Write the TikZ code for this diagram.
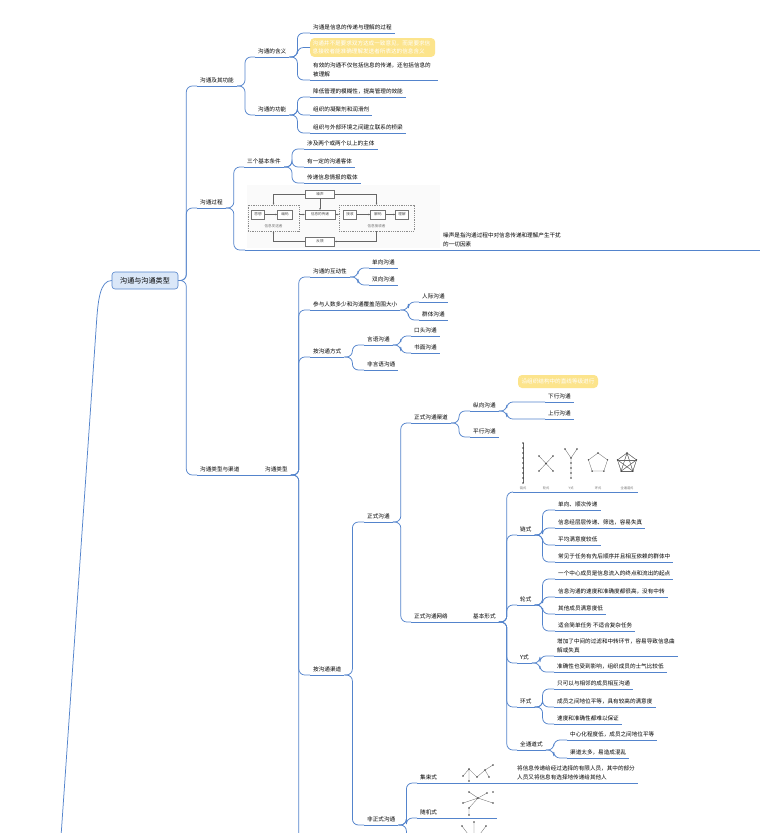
\documentclass[tikz,border=0pt]{standalone}
\usepackage{fontspec}
\setmainfont{Noto Sans CJK SC}
\usepackage{xcolor}
\usetikzlibrary{arrows.meta}

\definecolor{linkblue}{RGB}{84,132,204}
\definecolor{rootfill}{RGB}{218,231,248}
\definecolor{noteyellow}{RGB}{252,228,140}
\newcommand\mmfont{\fontsize{5.6}{8.6}\selectfont}
\newcommand\mmrootfont{\fontsize{7.1}{8}\selectfont}
\newcommand\mmimgfont{\fontsize{3.6}{4}\selectfont}
\newcommand\mmnetfont{\fontsize{3.2}{4}\selectfont}

\begin{document}
\begin{tikzpicture}[x=1pt, y=-1pt, >=Stealth,
  link/.style={draw=linkblue, line width=0.75pt, rounded corners=6pt},
  elbow/.style={to path={-- ++(#1,0) |- (\tikztotarget)}},
  elbow/.default=8,
  topic/.style={anchor=south west, inner xsep=3pt, inner ysep=3.2pt, font=\mmfont, text=black, align=left},
  notebox/.style={fill=noteyellow, rounded corners=4pt, text=white, font=\mmfont, align=left, inner sep=2.5pt},
  rootbox/.style={draw=linkblue, fill=rootfill, rounded corners=3pt, line width=0.6pt, font=\mmrootfont, minimum width=66pt, minimum height=17pt},
  pbox/.style={draw=black!55, fill=white, font=\mmimgfont, text=black!70, inner sep=0.5pt, minimum height=8.5pt},
  pgroup/.style={draw=black!45, dash pattern=on 1pt off 0.8pt, line width=0.3pt, inner sep=0pt},
  parr/.style={draw=black!60, line width=0.3pt, -{Stealth[length=2pt,width=1.6pt]}},
  netline/.style={draw=black!60, line width=0.3pt},
  netdot/.style={fill=black!75},
  netlbl/.style={font=\mmnetfont, text=black!55, inner sep=0pt}]

\useasboundingbox (0,0) rectangle (768,833);
\clip (0,0) rectangle (768,833);
\fill[white] (0,0) rectangle (768,833);

% root and first level
\node[rootbox] (root) at (145,280.5) {沟通与沟通类型};
\node[topic] (jiqi) at (197,86) {沟通及其功能};
\node[topic] (guocheng) at (197,208) {沟通过程};
\node[topic] (leiqu) at (197,475) {沟通类型与渠道};
\coordinate (rootdown) at (58,880);

% 沟通及其功能
\node[topic] (hanyi) at (255,57) {沟通的含义};
\node[topic] (gongneng) at (255,115) {沟通的功能};
\node[topic] (h1) at (310,33) {沟通是信息的传递与理解的过程};
\node[notebox, anchor=west, text width=120pt] (note1) at (310,47.5) {沟通并不是要求双方达成一致意见，而是要求信\\息接收者能准确理解发送者所表达的信息含义};
\node[topic, text width=122pt] (h3) at (310,80) {有效的沟通不仅包括信息的传递，还包括信息的\\被理解};
\node[topic] (g1) at (310,97) {降低管理的模糊性，提高管理的效能};
\node[topic] (g2) at (310,115) {组织的凝聚剂和润滑剂};
\node[topic] (g3) at (310,133) {组织与外部环境之间建立联系的桥梁};

% 沟通过程
\node[topic] (tiaojian) at (244,167) {三个基本条件};
\node[topic] (t1) at (304,149) {涉及两个或两个以上的主体};
\node[topic] (t2) at (304,167) {有一定的沟通客体};
\node[topic] (t3) at (304,183) {传递信息情报的载体};
\coordinate (liucheng) at (245,250);
\coordinate (liuchengend) at (760,250);
\node[topic] (zaosheng) at (440,250) {噪声是指沟通过程中对信息传递和理解产生干扰\\的一切因素};

% process figure
\fill[black!2] (247,185) rectangle (440,248);
\node[pbox, minimum width=29pt] (noise) at (320,194) {噪声};
\node[pgroup, minimum width=51pt, minimum height=26pt] (sender) at (273.5,218) {};
\node[pgroup, minimum width=75pt, minimum height=26pt] (receiver) at (376.5,218) {};
\node[pbox, minimum width=13pt] (sixiang) at (258,214.5) {思想};
\node[pbox, minimum width=15pt] (bianma) at (285,214.5) {编码};
\node[pbox, minimum width=30pt] (chuandi) at (320,214.5) {信息的传递};
\node[pbox, minimum width=13pt] (jieshou) at (350,214.5) {接收};
\node[pbox, minimum width=15pt] (jiema) at (378,214.5) {解码};
\node[pbox, minimum width=13pt] (lijie) at (402,214.5) {理解};
\node[netlbl, font=\mmimgfont] (faxing) at (273.5,226) {信息发送者};
\node[netlbl, font=\mmimgfont] (jieshouzhe) at (376.5,226) {信息接收者};
\node[pbox, minimum width=29pt] (fankui) at (320,241.5) {反馈};
\draw[parr] (noise.west) -| (sender.north);
\draw[parr] (noise.east) -| (receiver.north);
\draw[parr] (noise.south) -- (chuandi.north);
\draw[parr] (sixiang) -- (bianma);
\draw[parr] (sender.east |- chuandi.west) -- (chuandi.west);
\draw[parr] (chuandi.east) -- (receiver.west |- chuandi.east);
\draw[parr] (jieshou) -- (jiema);
\draw[parr] (jiema) -- (lijie);
\draw[parr] (receiver.south) |- (fankui.east);
\draw[parr] (fankui.west) -| (sender.south);

% 沟通类型
\node[topic] (leixing) at (262,475) {沟通类型};
\coordinate (leixingmore) at (313,900);
\node[topic] (hudong) at (310,277) {沟通的互动性};
\node[topic] (renshu) at (310,310) {参与人数多少和沟通覆盖范围大小};
\node[topic] (fangshi) at (310,357) {按沟通方式};
\node[topic] (qudao) at (310,675) {按沟通渠道};
\node[topic] (danxiang) at (369,268) {单向沟通};
\node[topic] (shuangxiang) at (369,285) {双向沟通};
\node[topic] (renji) at (419,302) {人际沟通};
\node[topic] (qunti) at (419,320) {群体沟通};
\node[topic] (yanyu) at (364,345) {言语沟通};
\node[topic] (feiyanyu) at (364,370) {非言语沟通};
\node[topic] (koutou) at (411,336) {口头沟通};
\node[topic] (shumian) at (411,353) {书面沟通};

% 按沟通渠道
\node[topic] (zhengshi) at (364,522) {正式沟通};
\node[topic] (feizhengshi) at (364,825) {非正式沟通};
\node[topic] (zsqudao) at (411,423) {正式沟通渠道};
\node[topic] (zswangluo) at (411,622) {正式沟通网络};
\node[notebox, inner sep=2pt, minimum width=80pt, minimum height=13pt] (note2) at (558,381.5) {沿组织结构中的直线等级进行};
\node[topic] (zongxiang) at (470,411) {纵向沟通};
\node[topic] (pingxing) at (470,437) {平行沟通};
\node[topic] (xiaxing) at (545,402) {下行沟通};
\node[topic] (shangxing) at (545,419) {上行沟通};
\node[topic] (jiben) at (470,622) {基本形式};
\coordinate (wangluo) at (513,492);
\coordinate (wangluoend) at (638,492);

% network figure
\draw[netline] (523,443) -- (523,483);
\foreach \y in {443,448,...,483} \fill[netdot] (523,\y) circle (0.8pt);
\draw[netline] (539,456) -- (553,471) (553,456) -- (539,471);
\foreach \p in {(539,456),(553,456),(539,471),(553,471),(546,463.5)} \fill[netdot] \p circle (0.8pt);
\draw[netline] (565,449) -- (571,458) -- (577,449) (571,458) -- (571,478);
\foreach \y in {458,463,468,473,478} \fill[netdot] (571,\y) circle (0.8pt);
\fill[netdot] (565,449) circle (0.8pt) (577,449) circle (0.8pt);
\foreach \k in {0,...,4} {
  \path (598,463) ++(270+72*\k:10) coordinate (ring\k);
  \path (627,463) ++(270+72*\k:10) coordinate (all\k);
}
\draw[netline] (ring0) -- (ring1) -- (ring2) -- (ring3) -- (ring4) -- cycle;
\foreach \i in {0,...,4} \foreach \j in {0,...,4} \draw[netline] (all\i) -- (all\j);
\foreach \k in {0,...,4} \fill[netdot] (ring\k) circle (0.8pt) (all\k) circle (0.8pt);
\node[netlbl] (lbllian) at (523,488) {链式};
\node[netlbl] (lbllun) at (546,488) {轮式};
\node[netlbl] (lbly) at (571,488) {Y式};
\node[netlbl] (lblhuan) at (598,488) {环式};
\node[netlbl] (lblquan) at (627,488) {全通道式};

% 基本形式
\node[topic] (lian) at (517,535) {链式};
\node[topic] (lun) at (517,605) {轮式};
\node[topic] (yshi) at (517,663) {Y式};
\node[topic] (huan) at (517,707) {环式};
\node[topic] (quantong) at (517,750) {全通道式};
\node[topic] (l1) at (555,510) {单向、顺次传递};
\node[topic] (l2) at (555,528) {信息经层层传递、筛选，容易失真};
\node[topic] (l3) at (555,545) {平均满意度较低};
\node[topic] (l4) at (555,562) {常见于任务有先后顺序并且相互依赖的群体中};
\node[topic] (r1) at (555,579) {一个中心成员是信息流入的终点和流出的起点};
\node[topic] (r2) at (555,597) {信息沟通的速度和准确度都很高，没有中转};
\node[topic] (r3) at (555,614) {其他成员满意度低};
\node[topic] (r4) at (555,631) {适合简单任务 不适合复杂任务};
\node[topic, text width=118pt] (y1) at (554,656) {增加了中间的过滤和中转环节，容易导致信息曲\\解或失真};
\node[topic] (y2) at (554,672) {准确性也受到影响，组织成员的士气比较低};
\node[topic] (hu1) at (554,689) {只可以与相邻的成员相互沟通};
\node[topic] (hu2) at (554,707) {成员之间地位平等，具有较高的满意度};
\node[topic] (hu3) at (554,724) {速度和准确性都难以保证};
\node[topic] (q1) at (567,740) {中心化程度低，成员之间地位平等};
\node[topic] (q2) at (567,758) {渠道太多，易造成混乱};

% 非正式沟通
\node[topic] (jishu) at (417,783) {集束式};
\node[topic] (jishutxt) at (514,783) {将信息传递给经过选择的有限人员，其中的部分\\人员又将信息有选择地传递给其他人};
\coordinate (jishuend) at (638,783);
\node[topic] (suiji) at (417,818) {随机式};
\coordinate (suijiend) at (497,818);
\coordinate (fzsmore) at (413,852);
\draw[netline] (463,776) -- (469,769) -- (469,781) (469,769) -- (477,777) -- (485,770) -- (493,765) (485,770) -- (489,777);
\foreach \p in {(463,776),(469,769),(469,781),(477,777),(485,770),(493,765),(489,777)} \fill[netdot] \p circle (0.8pt);
\draw[netline] (469,792) -- (478,798) -- (487,793) (463,803) -- (478,798) -- (469,808) -- (469,815) (478,798) -- (493,803);
\foreach \p in {(469,792),(478,798),(487,793),(463,803),(469,808),(469,815),(493,803),(493,792)} \fill[netdot] \p circle (0.8pt);
\draw[netline] (474,842) -- (462,826) (474,842) -- (474,822) (474,842) -- (486,826);
\foreach \p in {(462,826),(474,822),(486,826)} \fill[netdot] \p circle (0.8pt);

% underlines
\foreach \n in {jiqi,guocheng,leiqu,hanyi,gongneng,tiaojian,leixing,h1,h3,g1,g2,g3,t1,t2,t3,
  hudong,renshu,fangshi,qudao,danxiang,shuangxiang,renji,qunti,yanyu,feiyanyu,koutou,shumian,
  zhengshi,feizhengshi,zsqudao,zswangluo,zongxiang,pingxing,xiaxing,shangxing,jiben,
  lian,lun,yshi,huan,quantong,l1,l2,l3,l4,r1,r2,r3,r4,y1,y2,hu1,hu2,hu3,q1,q2}
  \draw[link] (\n.south west) -- (\n.south east);
\draw[link] (liucheng) -- (liuchengend);
\draw[link] (jishu.south west) -- (jishuend);
\draw[link] (suiji.south west) -- (suijiend);
\draw[link] (wangluo) -- (wangluoend);

% connectors
\draw[link] (root.west) .. controls (100,280.5) and (98,300) .. (96,330) -- (rootdown);
\draw[link] (root.east) to[elbow] (jiqi.south west);
\draw[link] (root.east) to[elbow] (guocheng.south west);
\draw[link] (root.east) to[elbow] (leiqu.south west);
\draw[link] (jiqi.south east) to[elbow] (hanyi.south west);
\draw[link] (jiqi.south east) to[elbow] (gongneng.south west);
\draw[link] (hanyi.south east) to[elbow] (h1.south west);
\draw[link] (hanyi.south east) to[elbow] (note1.west);
\draw[link] (hanyi.south east) to[elbow] (h3.south west);
\draw[link] (gongneng.south east) to[elbow] (g1.south west);
\draw[link] (gongneng.south east) to[elbow] (g2.south west);
\draw[link] (gongneng.south east) to[elbow] (g3.south west);
\draw[link] (guocheng.south east) to[elbow] (tiaojian.south west);
\draw[link] (guocheng.south east) to[elbow] (liucheng);
\draw[link] (tiaojian.south east) to[elbow] (t1.south west);
\draw[link] (tiaojian.south east) to[elbow] (t2.south west);
\draw[link] (tiaojian.south east) to[elbow] (t3.south west);
\draw[link] (leiqu.south east) -- (leixing.south west);
\draw[link] (leixing.south east) to[elbow] (hudong.south west);
\draw[link] (leixing.south east) to[elbow] (renshu.south west);
\draw[link] (leixing.south east) to[elbow] (fangshi.south west);
\draw[link] (leixing.south east) to[elbow] (qudao.south west);
\draw[link] (leixing.south east) to[elbow] (leixingmore);
\draw[link] (hudong.south east) to[elbow] (danxiang.south west);
\draw[link] (hudong.south east) to[elbow] (shuangxiang.south west);
\draw[link] (renshu.south east) to[elbow] (renji.south west);
\draw[link] (renshu.south east) to[elbow] (qunti.south west);
\draw[link] (fangshi.south east) to[elbow] (yanyu.south west);
\draw[link] (fangshi.south east) to[elbow] (feiyanyu.south west);
\draw[link] (yanyu.south east) to[elbow] (koutou.south west);
\draw[link] (yanyu.south east) to[elbow] (shumian.south west);
\draw[link] (qudao.south east) to[elbow] (zhengshi.south west);
\draw[link] (qudao.south east) to[elbow] (feizhengshi.south west);
\draw[link] (zhengshi.south east) to[elbow] (zsqudao.south west);
\draw[link] (zhengshi.south east) to[elbow] (zswangluo.south west);
\draw[link] (zsqudao.south east) to[elbow] (zongxiang.south west);
\draw[link] (zsqudao.south east) to[elbow] (pingxing.south west);
\draw[link] (zongxiang.south east) to[elbow] (xiaxing.south west);
\draw[link] (zongxiang.south east) to[elbow] (shangxing.south west);
\draw[link] (zswangluo.south east) -- (jiben.south west);
\draw[link] (jiben.south east) to[elbow] (wangluo);
\foreach \c in {lian,lun,yshi,huan,quantong}
  \draw[link] (jiben.south east) to[elbow] (\c.south west);
\foreach \c in {l1,l2,l3,l4}
  \draw[link] (lian.south east) to[elbow] (\c.south west);
\foreach \c in {r1,r2,r3,r4}
  \draw[link] (lun.south east) to[elbow] (\c.south west);
\foreach \c in {y1,y2}
  \draw[link] (yshi.south east) to[elbow] (\c.south west);
\foreach \c in {hu1,hu2,hu3}
  \draw[link] (huan.south east) to[elbow] (\c.south west);
\foreach \c in {q1,q2}
  \draw[link] (quantong.south east) to[elbow] (\c.south west);
\draw[link] (feizhengshi.south east) to[elbow] (jishu.south west);
\draw[link] (feizhengshi.south east) to[elbow] (suiji.south west);
\draw[link] (feizhengshi.south east) to[elbow] (fzsmore);

\end{tikzpicture}
\end{document}
